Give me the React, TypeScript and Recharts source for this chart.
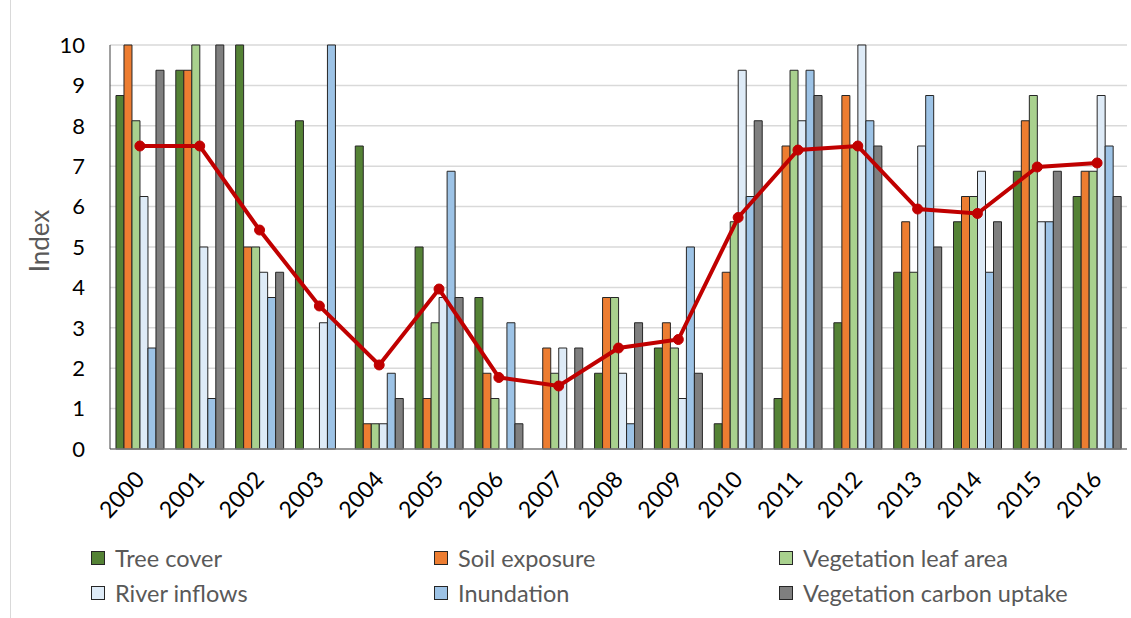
import React from 'react';
import { ComposedChart, Bar, Line, XAxis, YAxis, CartesianGrid, Legend } from 'recharts';

const years = ['2000', '2001', '2002', '2003', '2004', '2005', '2006', '2007', '2008', '2009', '2010', '2011', '2012', '2013', '2014', '2015', '2016'];
const treeCover = [8.75, 9.375, 10, 8.125, 7.5, 5, 3.75, 0, 1.875, 2.5, 0.625, 1.25, 3.125, 4.375, 5.625, 6.875, 6.25];
const soilExposure = [10, 9.375, 5, 0, 0.625, 1.25, 1.875, 2.5, 3.75, 3.125, 4.375, 7.5, 8.75, 5.625, 6.25, 8.125, 6.875];
const vegLeafArea = [8.125, 10, 5, 0, 0.625, 3.125, 1.25, 1.875, 3.75, 2.5, 5.625, 9.375, 7.5, 4.375, 6.25, 8.75, 6.875];
const riverInflows = [6.25, 5, 4.375, 3.125, 0.625, 3.75, 0, 2.5, 1.875, 1.25, 9.375, 8.125, 10, 7.5, 6.875, 5.625, 8.75];
const inundation = [2.5, 1.25, 3.75, 10, 1.875, 6.875, 3.125, 0, 0.625, 5, 6.25, 9.375, 8.125, 8.75, 4.375, 5.625, 7.5];
const carbonUptake = [9.375, 10, 4.375, 0, 1.25, 3.75, 0.625, 2.5, 3.125, 1.875, 8.125, 8.75, 7.5, 5, 5.625, 6.875, 6.25];
// red line (overall index)
const indexLine = [7.5, 7.5, 5.42, 3.54, 2.08, 3.96, 1.77, 1.56, 2.5, 2.71, 5.73, 7.4, 7.5, 5.94, 5.83, 6.98, 7.08];
const yTicks = [0, 1, 2, 3, 4, 5, 6, 7, 8, 9, 10];

const series = [
  { key: 'tree', name: 'Tree cover', color: '#548235', values: treeCover },
  { key: 'soil', name: 'Soil exposure', color: '#ED7D31', values: soilExposure },
  { key: 'leaf', name: 'Vegetation leaf area', color: '#A9D18E', values: vegLeafArea },
  { key: 'river', name: 'River inflows', color: '#DEEBF7', values: riverInflows },
  { key: 'inund', name: 'Inundation', color: '#9DC3E6', values: inundation },
  { key: 'carbon', name: 'Vegetation carbon uptake', color: '#7F7F7F', values: carbonUptake },
];

const data = years.map((year, i) => {
  const row: Record<string, any> = { year, index: indexLine[i] };
  series.forEach((s) => {
    row[s.key] = s.values[i];
  });
  return row;
});

const FONT = 'Lato, "Open Sans", sans-serif';

const YearTick = (props: any) => {
  const { x, y, payload } = props;
  return (
    <g transform={`translate(${x},${y + 18})`}>
      <text
        textAnchor="end"
        transform="rotate(-47)"
        dy="0.35em"
        fill="#000"
        fontSize={23}
        fontFamily={FONT}
      >
        {payload.value}
      </text>
    </g>
  );
};

const legendCols = [91, 434, 779];

const ChartLegend = () => (
  <div style={{ position: 'relative', width: 1131, height: 70, fontFamily: FONT }}>
    {series.map((s, i) => (
      <div
        key={s.key}
        style={{
          position: 'absolute',
          left: legendCols[i % 3],
          top: Math.floor(i / 3) * 35,
          height: 35,
          display: 'flex',
          alignItems: 'center',
          whiteSpace: 'nowrap',
        }}
      >
        <span
          style={{
            display: 'inline-block',
            width: 12,
            height: 12,
            background: s.color,
            border: '1px solid #262626',
            marginRight: 10,
          }}
        />
        <span style={{ fontSize: 23.5, color: '#595959' }}>{s.name}</span>
      </div>
    ))}
  </div>
);

const App: React.FC = () => {
  return (
    <div style={{ position: 'absolute', left: 0, top: 0, width: 1131, height: 618, background: '#fff' }}>
      <div style={{ position: 'absolute', left: 10, top: 0, width: 1, height: 618, background: '#d9d9d9' }} />
      <ComposedChart
        width={1131}
        height={618}
        data={data}
        margin={{ top: 45, right: 4, bottom: 14, left: 0 }}
        barCategoryGap="10%"
        barGap={0}
      >
        <CartesianGrid vertical={false} stroke="#d9d9d9" strokeWidth={1.5} />
        <XAxis
          dataKey="year"
          height={85}
          interval={0}
          tickLine={false}
          axisLine={{ stroke: '#7f7f7f', strokeWidth: 1.5 }}
          tick={<YearTick />}
        />
        <YAxis
          domain={[0, 10]}
          ticks={yTicks}
          width={110}
          tickLine={false}
          tickSize={0}
          tickMargin={25}
          axisLine={{ stroke: '#404040', strokeWidth: 1 }}
          tick={{ fill: '#000', fontSize: 22, fontFamily: FONT }}
          label={{
            value: 'Index',
            angle: -90,
            position: 'insideLeft',
            offset: 40,
            dy: -6,
            style: { fill: '#595959', fontSize: 26, fontFamily: FONT, textAnchor: 'middle' },
          }}
        />
        {series.map((s) => (
          <Bar
            key={s.key}
            dataKey={s.key}
            name={s.name}
            fill={s.color}
            stroke="#262626"
            strokeWidth={1}
            isAnimationActive={false}
          />
        ))}
        <Line
          type="linear"
          dataKey="index"
          name="Index"
          stroke="#C00000"
          strokeWidth={4}
          dot={{ r: 5, fill: '#C00000', stroke: '#C00000', strokeWidth: 1 }}
          activeDot={false}
          legendType="none"
          isAnimationActive={false}
        />
        <Legend
          verticalAlign="bottom"
          content={<ChartLegend />}
          wrapperStyle={{ left: 0, top: 540, width: 1131, height: 70 }}
        />
      </ComposedChart>
    </div>
  );
};

export default App;
